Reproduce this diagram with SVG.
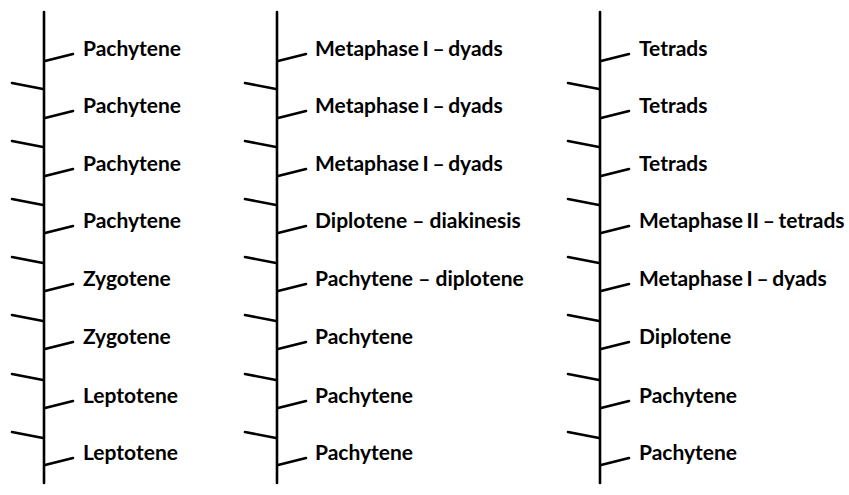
<svg xmlns="http://www.w3.org/2000/svg" width="849" height="495" viewBox="0 0 849 495">
<style>
.ln{stroke:#000;stroke-width:2.6;fill:none;stroke-linecap:round}
.t{font-family:Lato,"Open Sans",sans-serif;font-weight:700;font-size:21px;fill:#000}
.m{word-spacing:-1.5px}
</style>
<rect width="849" height="495" fill="#fff"/>
<defs>
<g id="col">
<line class="ln" x1="0" y1="12" x2="0" y2="483"/>
<line class="ln" x1="1" y1="61" x2="29" y2="54"/>
<line class="ln" x1="1" y1="118" x2="29" y2="111"/>
<line class="ln" x1="1" y1="176" x2="29" y2="169"/>
<line class="ln" x1="1" y1="233" x2="29" y2="226"/>
<line class="ln" x1="1" y1="291" x2="29" y2="284"/>
<line class="ln" x1="1" y1="349" x2="29" y2="342"/>
<line class="ln" x1="1" y1="408" x2="29" y2="401"/>
<line class="ln" x1="1" y1="465" x2="29" y2="458"/>
<line class="ln" x1="-32" y1="83" x2="-1" y2="89"/>
<line class="ln" x1="-32" y1="141" x2="-1" y2="147"/>
<line class="ln" x1="-32" y1="199" x2="-1" y2="205"/>
<line class="ln" x1="-32" y1="257" x2="-1" y2="263"/>
<line class="ln" x1="-32" y1="315" x2="-1" y2="321"/>
<line class="ln" x1="-32" y1="374" x2="-1" y2="380"/>
<line class="ln" x1="-32" y1="432" x2="-1" y2="438"/>
</g>
</defs>
<g id="connectors">
<use href="#col" x="44" y="0"/>
<use href="#col" x="277" y="0"/>
<use href="#col" x="600" y="0"/>
</g>
<g id="col1">
<text class="t" x="83" y="56">Pachytene</text>
<text class="t" x="83" y="113">Pachytene</text>
<text class="t" x="83" y="171">Pachytene</text>
<text class="t" x="83" y="228">Pachytene</text>
<text class="t" x="83" y="286">Zygotene</text>
<text class="t" x="83" y="344">Zygotene</text>
<text class="t" x="83" y="403">Leptotene</text>
<text class="t" x="83" y="460">Leptotene</text>
</g>
<g id="col2">
<text class="t m" x="315" y="56">Metaphase I – dyads</text>
<text class="t m" x="315" y="113">Metaphase I – dyads</text>
<text class="t m" x="315" y="171">Metaphase I – dyads</text>
<text class="t" x="315" y="228">Diplotene – diakinesis</text>
<text class="t" x="315" y="286">Pachytene – diplotene</text>
<text class="t" x="315" y="344">Pachytene</text>
<text class="t" x="315" y="403">Pachytene</text>
<text class="t" x="315" y="460">Pachytene</text>
</g>
<g id="col3">
<text class="t" x="639" y="56">Tetrads</text>
<text class="t" x="639" y="113">Tetrads</text>
<text class="t" x="639" y="171">Tetrads</text>
<text class="t m" x="639" y="228">Metaphase II – tetrads</text>
<text class="t m" x="639" y="286">Metaphase I – dyads</text>
<text class="t" x="639" y="344">Diplotene</text>
<text class="t" x="639" y="403">Pachytene</text>
<text class="t" x="639" y="460">Pachytene</text>
</g>
</svg>
